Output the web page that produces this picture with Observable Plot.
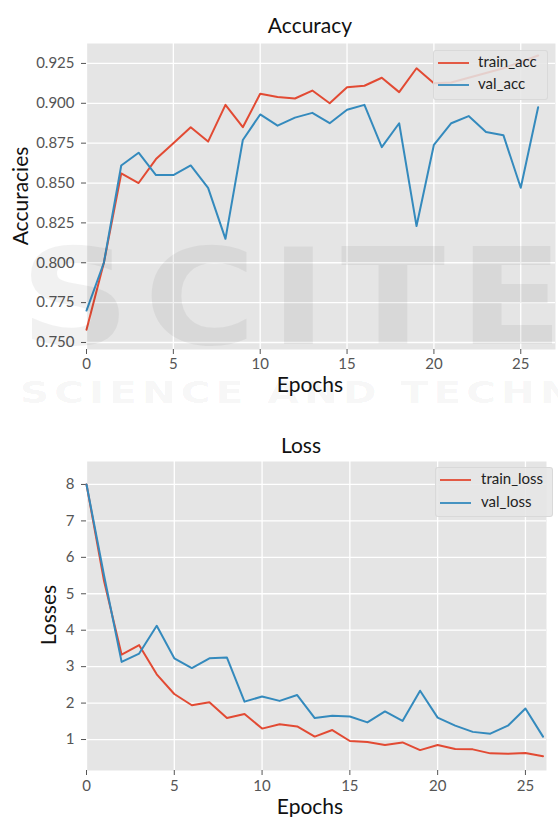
<!DOCTYPE html>
<html>
<head>
<meta charset="utf-8">
<script src="https://cdn.jsdelivr.net/npm/d3@7"></script>
<script src="https://cdn.jsdelivr.net/npm/@observablehq/plot@0.6"></script>
<style>
  html, body { margin: 0; padding: 0; background: #fff; }
  body { width: 558px; height: 817px; overflow: hidden; font-family: Lato, "Open Sans", sans-serif; }
  #page { position: relative; width: 558px; height: 817px; overflow: hidden; }
  .panel { position: absolute; left: 0; width: 558px; }
  .lbl { position: absolute; font-size: 21px; line-height: 1; color: #111; white-space: nowrap; transform: translateX(-50%); }
  .ylbl { position: absolute; font-size: 21px; line-height: 1; color: #111; white-space: nowrap; transform: translate(-50%, -50%) rotate(-90deg); }
  .legend { position: absolute; background: rgba(229,229,229,0.86); border: 1px solid rgba(212,212,212,0.8); border-radius: 3px; box-sizing: border-box; }
  .legend .sw { position: absolute; height: 2px; width: 31px; opacity: 0.9; }
  .legend .tx { position: absolute; font-size: 15px; line-height: 1; color: #222; white-space: nowrap; }
  .wm { position: absolute; pointer-events: none; white-space: nowrap; font-family: "DejaVu Sans", sans-serif; font-weight: bold; line-height: 1; transform-origin: left top; color: rgba(0,0,0,0.055); }
</style>
</head>
<body>
<div id="page">
  <div id="acc" class="panel" style="top:0;height:410px"></div>
  <div id="loss" class="panel" style="top:410px;height:407px"></div>
</div>
<script>
// ---- data ----
const epochs = [0,1,2,3,4,5,6,7,8,9,10,11,12,13,14,15,16,17,18,19,20,21,22,23,24,25,26];
const trainAcc = [0.758,0.800,0.856,0.850,0.865,0.875,0.885,0.876,0.899,0.885,0.906,0.904,0.903,0.908,0.900,0.910,0.911,0.916,0.907,0.922,0.9125,0.913,0.916,0.919,0.922,0.926,0.930];
const valAcc   = [0.770,0.800,0.861,0.869,0.855,0.855,0.861,0.847,0.815,0.877,0.893,0.886,0.891,0.894,0.8875,0.896,0.899,0.8725,0.8875,0.823,0.874,0.8875,0.892,0.882,0.880,0.847,0.8975];
const trainLoss = [8.0,5.35,3.33,3.59,2.79,2.25,1.94,2.02,1.59,1.70,1.30,1.42,1.36,1.08,1.26,0.96,0.93,0.85,0.92,0.71,0.85,0.74,0.73,0.62,0.61,0.63,0.54];
const valLoss   = [8.0,5.50,3.13,3.36,4.12,3.23,2.96,3.23,3.25,2.04,2.18,2.06,2.22,1.59,1.65,1.63,1.47,1.77,1.51,2.34,1.60,1.38,1.21,1.16,1.38,1.85,1.08];
const accSeries = ["train_acc", "val_acc"];
const lossSeries = ["train_loss", "val_loss"];
const epochTicks = [0,5,10,15,20,25];
const accTicks = [0.750,0.775,0.800,0.825,0.850,0.875,0.900,0.925];
const lossTicks = [1,2,3,4,5,6,7,8];
const titles = ["Accuracy", "Loss"];
const xLabel = "Epochs";
const yLabels = ["Accuracies", "Losses"];
const colors = ["#E24A33", "#348ABD"];

function table(names, a, b) {
  return [
    ...epochs.map((e, i) => ({epoch: e, value: a[i], series: names[0]})),
    ...epochs.map((e, i) => ({epoch: e, value: b[i], series: names[1]}))
  ];
}

function chart(o) {
  return Plot.plot({
    width: 558, height: o.height,
    marginTop: o.marginTop, marginBottom: o.marginBottom, marginLeft: 86, marginRight: o.marginRight,
    x: {domain: o.xDomain},
    y: {domain: o.yDomain},
    color: {domain: o.series, range: colors},
    style: {fontFamily: "Lato, 'Open Sans', sans-serif", fontSize: "15px", color: "#555", background: "transparent"},
    marks: [
      Plot.frame({fill: "#E5E5E5", stroke: "none"}),
      Plot.gridX(epochTicks, {stroke: "#fff", strokeOpacity: 1, strokeWidth: 1.3}),
      Plot.gridY(o.yTicks, {stroke: "#fff", strokeOpacity: 1, strokeWidth: 1.3}),
      Plot.axisX(epochTicks, {tickSize: 5, tickPadding: o.xPad, label: null, fontSize: 15}),
      Plot.axisY(o.yTicks, {tickSize: 5, tickPadding: 7, label: null, fontSize: 15, tickFormat: o.yFmt}),
      Plot.line(o.data, {x: "epoch", y: "value", stroke: "series", z: "series", strokeWidth: 2})
    ]
  });
}

document.getElementById("acc").appendChild(chart({
  data: table(accSeries, trainAcc, valAcc), series: accSeries,
  height: 410, marginTop: 43, marginBottom: 61, marginRight: 3,
  xDomain: [0, 27], yDomain: [0.7456, 0.9375], yTicks: accTicks, yFmt: d3.format(".3f"), xPad: 4
}));
document.getElementById("loss").appendChild(chart({
  data: table(lossSeries, trainLoss, valLoss), series: lossSeries,
  height: 407, marginTop: 51, marginBottom: 47, marginRight: 12,
  xDomain: [0, 26.2], yDomain: [0.15, 8.63], yTicks: lossTicks, yFmt: d3.format("d"), xPad: 5
}));

const page = document.getElementById("page");
function add(cls, text, style) {
  const d = document.createElement("div");
  d.className = cls; d.textContent = text;
  Object.assign(d.style, style);
  page.appendChild(d);
  return d;
}
// watermark (behind the labels in DOM order)
add("wm", "SCITEPRESS", {left: "20px", top: "232px", fontSize: "133px", letterSpacing: "12px", transform: "scaleX(1.15)"});
add("wm", "SCIENCE AND  TECHNOLOGY", {left: "20px", top: "377px", fontSize: "31px", letterSpacing: "4px", transform: "scaleX(1.3)", color: "rgba(0,0,0,0.05)"});

// titles and axis labels
add("lbl", titles[0], {left: "310px", top: "14px"});
add("lbl", titles[1], {left: "301px", top: "434px"});
add("lbl", xLabel, {left: "310px", top: "373px"});
add("lbl", xLabel, {left: "310px", top: "795px"});
add("ylbl", yLabels[0], {left: "19px", top: "196px"});
add("ylbl", yLabels[1], {left: "47px", top: "615px"});

// legends
function legend(names, box, rows, textLeft) {
  const lg = document.createElement("div");
  lg.className = "legend";
  Object.assign(lg.style, box);
  names.forEach((n, i) => {
    const sw = document.createElement("div");
    sw.className = "sw";
    Object.assign(sw.style, {left: "4px", top: (rows[i] - 1) + "px", background: colors[i]});
    lg.appendChild(sw);
    const tx = document.createElement("div");
    tx.className = "tx"; tx.textContent = n;
    Object.assign(tx.style, {left: textLeft + "px", top: (rows[i] - 9) + "px"});
    lg.appendChild(tx);
  });
  page.appendChild(lg);
}
legend(accSeries, {left: "433px", top: "50px", width: "115px", height: "50px"}, [12, 34], 44);
legend(lossSeries, {left: "435px", top: "467px", width: "118px", height: "50px"}, [12, 35], 45);
</script>
</body>
</html>
